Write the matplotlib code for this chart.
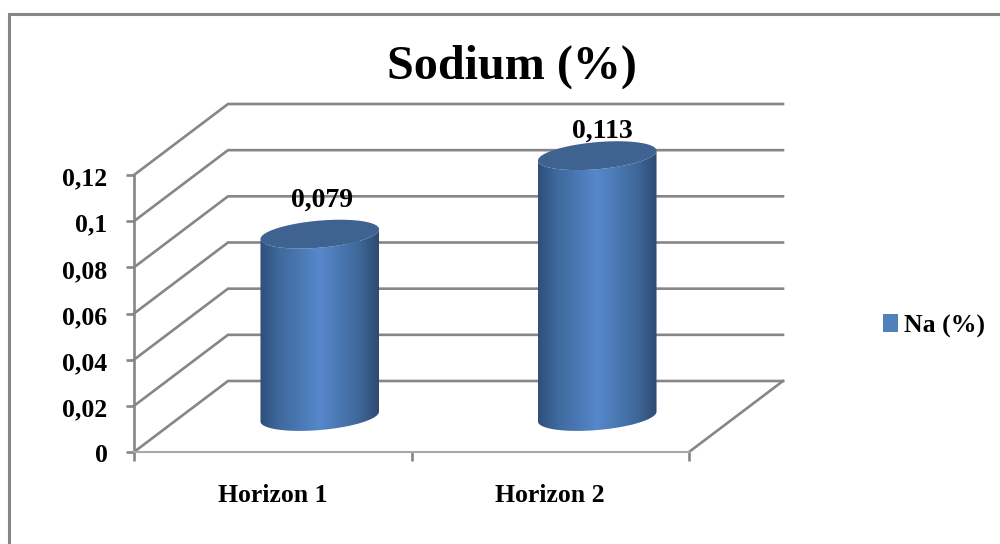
import numpy as np
import matplotlib
matplotlib.use("Agg")
import matplotlib.pyplot as plt
from matplotlib.colors import LinearSegmentedColormap
from matplotlib.patches import Patch, Polygon, Rectangle
from matplotlib.path import Path
from matplotlib.transforms import Affine2D

# --- Chart values ---
categories = ["Horizon 1", "Horizon 2"]
values = [0.079, 0.113]
value_labels = ["0,079", "0,113"]
y_ticks = [0, 0.02, 0.04, 0.06, 0.08, 0.1, 0.12]
y_tick_labels = ["0", "0,02", "0,04", "0,06", "0,08", "0,1", "0,12"]
title = "Sodium (%)"
series_name = "Na (%)"

# --- Styles ---
GREY = "#868686"
BLUE = "#4f81bd"
TOP = "#3e6391"
plt.rcParams["font.family"] = ["Liberation Serif", "DejaVu Serif"]
plt.rcParams["font.weight"] = "bold"

fig = plt.figure(figsize=(10, 5.44), dpi=100)

# plot box of the front plane, in figure fractions
ax = fig.add_axes([134 / 1000, (544 - 452) / 544, 555 / 1000, 277 / 544])
ax.set_xlim(0, 2)
ax.set_ylim(0, 0.12)
ax.patch.set_visible(False)

# size of one pixel in data units, for the fake 3D depth
px_x = 2 / 555
px_y = 0.12 / 277
depth_x = 94 * px_x
depth_y = 71 * px_y

# outer chart border (only top and left fall inside the picture)
fig.add_artist(Rectangle((9 / 1000, -0.1), 1.2, 1.1 - 13.5 / 544,
                         transform=fig.transFigure, fill=False,
                         edgecolor=GREY, linewidth=2.2))

# --- walls and floor ---
for v in y_ticks:
    ax.plot([0, depth_x, 2 + depth_x], [v, v + depth_y, v + depth_y],
            color=GREY, lw=1.9, clip_on=False, zorder=1, solid_joinstyle="miter")
ax.plot([2, 2 + depth_x], [0, depth_y], color=GREY, lw=1.9, clip_on=False, zorder=1)

# --- axes ---
for side in ["top", "right"]:
    ax.spines[side].set_visible(False)
ax.spines["left"].set_color(GREY)
ax.spines["left"].set_linewidth(1.9)
ax.spines["bottom"].set_color("#a8a8a8")
ax.spines["bottom"].set_linewidth(1.5)
ax.set_yticks(y_ticks)
ax.set_yticklabels(y_tick_labels, fontsize=18.5)
ax.tick_params(axis="y", length=6, width=1.9, color=GREY, pad=13)
# labels sit a little lower than the ticks in the original
for lab in ax.get_yticklabels():
    lab.set_transform(lab.get_transform() + Affine2D().translate(0, -1.5))
ax.set_xticks([0, 1, 2])
ax.set_xticklabels([])
ax.tick_params(axis="x", which="major", length=6.5, width=1.9, color=GREY)
ax.set_xticks([0.5, 1.5], minor=True)
ax.set_xticklabels(categories, minor=True, fontsize=18.5)
ax.tick_params(axis="x", which="minor", length=0, pad=23)

# --- cylinders ---
shade = LinearSegmentedColormap.from_list(
    "cyl", ["#2f4f7c", "#3f6a9e", "#4a78b3", "#5688cc", "#4a78b2", "#3f6899", "#2e4a72"])
gradient = np.linspace(0, 1, 256).reshape(1, -1)


def ellipse(cx, cy, t):
    # tilted ellipse, sized in pixels and returned in data units
    a, b, tilt = 59.5, 13.5, np.radians(5)
    ex = a * np.cos(t) * np.cos(tilt) - b * np.sin(t) * np.sin(tilt)
    ey = a * np.cos(t) * np.sin(tilt) + b * np.sin(t) * np.cos(tilt)
    return np.column_stack([cx + ex * px_x, cy + ey * px_y])


label_offsets = [(2, 34), (5, 24)]
half_w = 59.5 * px_x
for i, v in enumerate(values):
    cx = i + 0.5 + depth_x / 2
    cy = depth_y / 2
    lower = np.linspace(np.pi, 2 * np.pi, 60)
    side = np.vstack([ellipse(cx, cy, lower),
                      ellipse(cx, cy + v, lower[::-1])])
    im = ax.imshow(gradient, cmap=shade, aspect="auto", zorder=3,
                   extent=[cx - half_w, cx + half_w, cy - 20 * px_y, cy + v + 20 * px_y])
    im.set_clip_box(fig.bbox)
    im.set_clip_path(Path(side), transform=ax.transData)
    cap = Polygon(ellipse(cx, cy + v, np.linspace(0, 2 * np.pi, 120)),
                  closed=True, facecolor=TOP, edgecolor="none", zorder=4, clip_on=False)
    ax.add_patch(cap)
    ax.annotate(value_labels[i], xy=(cx, cy + v), xytext=label_offsets[i],
                textcoords="offset pixels", ha="center", va="center",
                fontsize=20, zorder=5, annotation_clip=False)
ax.set_xlim(0, 2)
ax.set_ylim(0, 0.12)

# --- title and legend ---
fig.text(512 / 1000, 1 - 67 / 544, title, ha="center", va="center", fontsize=34.7)
fig.legend(handles=[Patch(facecolor=BLUE, label=series_name)], loc="center left",
           bbox_to_anchor=(865 / 1000, 1 - 326 / 544), frameon=False, fontsize=18.5,
           handlelength=0.58, handleheight=0.7, handletextpad=0.25, borderpad=0.2)

fig.savefig("out.png", dpi=100)
